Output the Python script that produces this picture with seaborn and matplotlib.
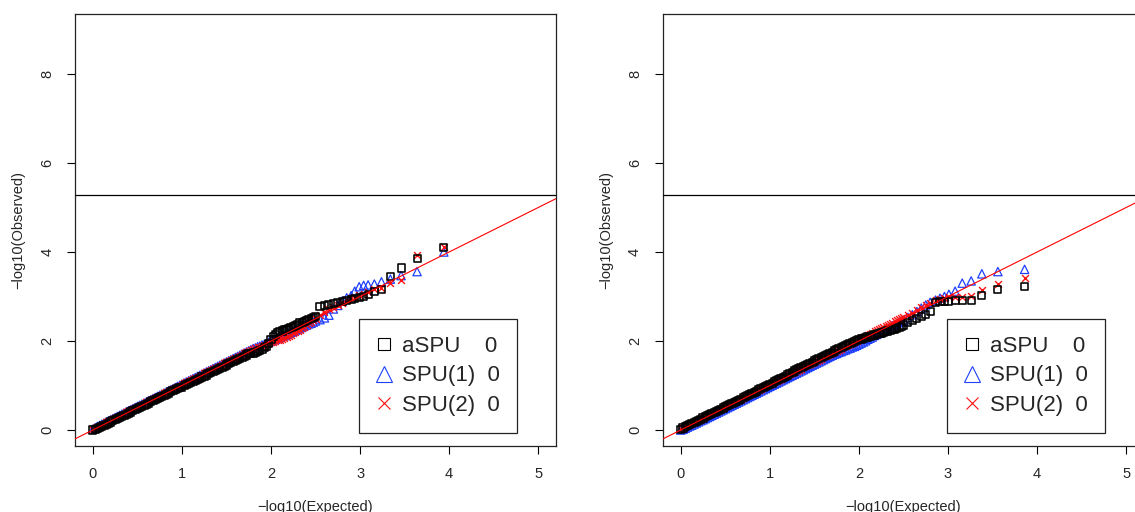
import numpy as np
import pandas as pd
import seaborn as sns
import matplotlib.pyplot as plt
from matplotlib.lines import Line2D

# expected -log10(p), dense part shared by both panels (0 .. 2.5)
exp_grid = [0.000, 0.025, 0.050, 0.075, 0.100, 0.125, 0.150, 0.175, 0.200, 0.225,
            0.250, 0.275, 0.300, 0.325, 0.350, 0.375, 0.400, 0.425, 0.450, 0.475,
            0.500, 0.525, 0.550, 0.575, 0.600, 0.625, 0.650, 0.675, 0.700, 0.725,
            0.750, 0.775, 0.800, 0.825, 0.850, 0.875, 0.900, 0.925, 0.950, 0.975,
            1.000, 1.025, 1.050, 1.075, 1.100, 1.125, 1.150, 1.175, 1.200, 1.225,
            1.250, 1.275, 1.300, 1.325, 1.350, 1.375, 1.400, 1.425, 1.450, 1.475,
            1.500, 1.525, 1.550, 1.575, 1.600, 1.625, 1.650, 1.675, 1.700, 1.725,
            1.750, 1.775, 1.800, 1.825, 1.850, 1.875, 1.900, 1.925, 1.950, 1.975,
            2.000, 2.025, 2.050, 2.075, 2.100, 2.125, 2.150, 2.175, 2.200, 2.225,
            2.250, 2.275, 2.300, 2.325, 2.350, 2.375, 2.400, 2.425, 2.450, 2.475,
            2.500]
# upper tail of expected values for each panel
exp_tail_left = [2.55, 2.60, 2.65, 2.70, 2.75, 2.80, 2.85,
                 2.90, 2.94, 2.99, 3.04, 3.09, 3.16, 3.24, 3.34, 3.46, 3.64, 3.94]
exp_tail_right = [2.55, 2.60, 2.65, 2.70, 2.75, 2.80,
                  2.86, 2.91, 2.96, 3.01, 3.08, 3.16, 3.26, 3.38, 3.56, 3.86]

# Left panel observed -log10(p)
aspu_left = [0.000, 0.010, 0.030, 0.055, 0.080, 0.105, 0.130, 0.155, 0.180, 0.205,
             0.230, 0.255, 0.280, 0.305, 0.330, 0.355, 0.380, 0.405, 0.430, 0.455,
             0.480, 0.505, 0.530, 0.555, 0.580, 0.605, 0.630, 0.655, 0.680, 0.705,
             0.730, 0.755, 0.780, 0.805, 0.830, 0.855, 0.880, 0.900, 0.925, 0.950,
             0.965, 0.990, 1.015, 1.040, 1.065, 1.090, 1.115, 1.140, 1.165, 1.190,
             1.210, 1.235, 1.260, 1.285, 1.310, 1.335, 1.360, 1.385, 1.410, 1.435,
             1.460, 1.485, 1.510, 1.535, 1.560, 1.585, 1.610, 1.635, 1.660, 1.685,
             1.710, 1.725, 1.730, 1.745, 1.760, 1.785, 1.810, 1.845, 1.880, 1.935,
             2.040, 2.105, 2.150, 2.185, 2.210, 2.225, 2.250, 2.265, 2.280, 2.305,
             2.320, 2.345, 2.380, 2.405, 2.420, 2.435, 2.460, 2.485, 2.500, 2.525,
             2.550,
             2.77, 2.80, 2.83, 2.84, 2.86, 2.88, 2.91,
             2.93, 2.96, 2.98, 3.00, 3.05, 3.12, 3.16, 3.44, 3.64, 3.85, 4.10]
spu1_left = [0.020, 0.050, 0.080, 0.105, 0.130, 0.155, 0.180, 0.205, 0.230, 0.255,
             0.280, 0.305, 0.330, 0.355, 0.380, 0.405, 0.430, 0.455, 0.480, 0.505,
             0.530, 0.555, 0.580, 0.605, 0.630, 0.655, 0.680, 0.705, 0.730, 0.755,
             0.780, 0.805, 0.830, 0.855, 0.880, 0.905, 0.930, 0.955, 0.980, 1.005,
             1.030, 1.055, 1.080, 1.105, 1.130, 1.155, 1.180, 1.205, 1.230, 1.255,
             1.280, 1.305, 1.330, 1.355, 1.380, 1.405, 1.430, 1.455, 1.480, 1.505,
             1.530, 1.555, 1.580, 1.605, 1.630, 1.655, 1.680, 1.705, 1.730, 1.755,
             1.780, 1.805, 1.830, 1.845, 1.870, 1.885, 1.910, 1.925, 1.950, 1.975,
             2.000, 2.025, 2.040, 2.065, 2.080, 2.105, 2.120, 2.145, 2.170, 2.195,
             2.220, 2.245, 2.270, 2.295, 2.320, 2.345, 2.360, 2.385, 2.400, 2.425,
             2.450,
             2.48, 2.52, 2.58, 2.72, 2.80, 2.90, 2.97,
             3.02, 3.12, 3.22, 3.25, 3.26, 3.28, 3.33, 3.39, 3.47, 3.56, 4.00]
spu2_left = [0.010, 0.045, 0.070, 0.095, 0.120, 0.145, 0.170, 0.195, 0.220, 0.245,
             0.270, 0.295, 0.320, 0.345, 0.370, 0.395, 0.420, 0.445, 0.470, 0.495,
             0.520, 0.545, 0.570, 0.595, 0.620, 0.645, 0.670, 0.695, 0.720, 0.745,
             0.770, 0.795, 0.820, 0.845, 0.870, 0.895, 0.920, 0.945, 0.970, 0.995,
             1.020, 1.045, 1.070, 1.095, 1.120, 1.145, 1.170, 1.195, 1.220, 1.245,
             1.270, 1.295, 1.320, 1.345, 1.370, 1.395, 1.420, 1.445, 1.470, 1.495,
             1.520, 1.545, 1.570, 1.595, 1.620, 1.645, 1.670, 1.695, 1.720, 1.745,
             1.770, 1.795, 1.820, 1.845, 1.860, 1.875, 1.890, 1.905, 1.930, 1.945,
             1.970, 1.985, 2.000, 2.015, 2.030, 2.055, 2.070, 2.095, 2.120, 2.145,
             2.170, 2.195, 2.230, 2.255, 2.290, 2.325, 2.360, 2.395, 2.430, 2.465,
             2.500,
             2.58, 2.66, 2.72, 2.77, 2.81, 2.86, 2.92,
             2.96, 3.00, 3.03, 3.06, 3.10, 3.16, 3.20, 3.30, 3.37, 3.93, 4.12]

# Right panel observed -log10(p)
aspu_right = [0.020, 0.045, 0.070, 0.095, 0.120, 0.145, 0.170, 0.195, 0.220, 0.245,
              0.270, 0.295, 0.320, 0.345, 0.370, 0.395, 0.420, 0.445, 0.470, 0.495,
              0.520, 0.545, 0.570, 0.595, 0.620, 0.645, 0.670, 0.695, 0.720, 0.745,
              0.770, 0.795, 0.820, 0.845, 0.870, 0.900, 0.925, 0.950, 0.975, 1.000,
              1.030, 1.055, 1.080, 1.105, 1.135, 1.160, 1.185, 1.210, 1.235, 1.260,
              1.300, 1.325, 1.350, 1.375, 1.400, 1.425, 1.450, 1.475, 1.500, 1.525,
              1.550, 1.575, 1.600, 1.625, 1.650, 1.675, 1.700, 1.725, 1.750, 1.775,
              1.800, 1.825, 1.850, 1.875, 1.900, 1.925, 1.950, 1.965, 1.990, 2.015,
              2.030, 2.045, 2.060, 2.075, 2.090, 2.105, 2.120, 2.135, 2.150, 2.165,
              2.180, 2.195, 2.210, 2.225, 2.240, 2.255, 2.270, 2.285, 2.310, 2.335,
              2.360,
              2.42, 2.47, 2.51, 2.56, 2.60, 2.66,
              2.86, 2.88, 2.88, 2.89, 2.90, 2.90, 2.92, 3.03, 3.15, 3.22]
spu1_right = [0.000, 0.015, 0.040, 0.065, 0.090, 0.110, 0.135, 0.160, 0.185, 0.210,
              0.230, 0.255, 0.280, 0.305, 0.330, 0.355, 0.380, 0.405, 0.430, 0.455,
              0.480, 0.505, 0.530, 0.555, 0.580, 0.605, 0.630, 0.655, 0.680, 0.705,
              0.730, 0.755, 0.780, 0.805, 0.830, 0.855, 0.880, 0.905, 0.930, 0.955,
              0.980, 1.005, 1.030, 1.055, 1.080, 1.105, 1.130, 1.155, 1.180, 1.205,
              1.230, 1.255, 1.280, 1.305, 1.330, 1.355, 1.380, 1.405, 1.430, 1.455,
              1.480, 1.505, 1.530, 1.555, 1.580, 1.605, 1.630, 1.655, 1.680, 1.705,
              1.720, 1.745, 1.760, 1.785, 1.800, 1.825, 1.840, 1.865, 1.880, 1.905,
              1.930, 1.955, 1.980, 2.005, 2.040, 2.065, 2.090, 2.125, 2.150, 2.175,
              2.200, 2.235, 2.260, 2.285, 2.310, 2.345, 2.370, 2.395, 2.420, 2.445,
              2.470,
              2.53, 2.59, 2.66, 2.74, 2.81, 2.87,
              2.92, 2.96, 3.00, 3.05, 3.12, 3.30, 3.35, 3.51, 3.56, 3.61]
spu2_right = [0.030, 0.055, 0.080, 0.105, 0.130, 0.155, 0.180, 0.205, 0.230, 0.255,
              0.280, 0.305, 0.330, 0.355, 0.380, 0.405, 0.430, 0.455, 0.480, 0.505,
              0.530, 0.555, 0.580, 0.605, 0.630, 0.655, 0.680, 0.705, 0.730, 0.755,
              0.780, 0.805, 0.830, 0.855, 0.880, 0.905, 0.930, 0.955, 0.980, 1.005,
              1.030, 1.055, 1.080, 1.105, 1.130, 1.155, 1.180, 1.205, 1.230, 1.255,
              1.280, 1.305, 1.330, 1.355, 1.380, 1.405, 1.430, 1.455, 1.480, 1.505,
              1.530, 1.555, 1.580, 1.605, 1.630, 1.655, 1.680, 1.705, 1.730, 1.755,
              1.780, 1.805, 1.830, 1.855, 1.880, 1.905, 1.930, 1.955, 1.980, 2.005,
              2.040, 2.065, 2.090, 2.115, 2.140, 2.165, 2.190, 2.215, 2.240, 2.265,
              2.290, 2.315, 2.340, 2.365, 2.390, 2.415, 2.440, 2.465, 2.490, 2.515,
              2.540,
              2.59, 2.64, 2.70, 2.76, 2.81, 2.86,
              2.92, 2.95, 2.97, 2.99, 3.00, 3.00, 3.01, 3.15, 3.28, 3.41]

legend_labels = ["aSPU    0", "SPU(1)  0", "SPU(2)  0"]
sig_line = 5.28  # significance threshold
x_ticks = [0, 1, 2, 3, 4, 5]
y_ticks = [0, 2, 4, 6, 8]

sns.set_style("white")
plt.rcParams['font.family'] = ['Liberation Sans', 'DejaVu Sans']

fig = plt.figure(figsize=(11.35, 5.12), dpi=100)
ax1 = fig.add_axes([0.0661, 0.1289, 0.4238, 0.8447])
ax2 = fig.add_axes([0.5841, 0.1289, 0.4238, 0.8447])  # runs past the right edge, as in the original


def qq_panel(ax, exp, aspu, spu1, spu2):
    df = pd.DataFrame({"exp": exp, "aspu": aspu, "spu1": spu1, "spu2": spu2})
    sns.scatterplot(data=df, x="exp", y="spu1", ax=ax, marker="^", s=36,
                    color="#1f3fff", facecolor="none", edgecolor="#1f3fff", linewidth=0.9)
    sns.scatterplot(data=df, x="exp", y="spu2", ax=ax, marker="x", s=24,
                    color="#ff1010", linewidth=1.0)
    sns.scatterplot(data=df, x="exp", y="aspu", ax=ax, marker="s", s=26,
                    color="black", facecolor="none", edgecolor="black", linewidth=1.15)
    ax.axline((0, 0), slope=1, color="red", lw=0.8, zorder=5)
    ax.axhline(sig_line, color="black", lw=0.9, zorder=5)

    ax.set_xlim(-0.2, 5.2)
    ax.set_ylim(-0.36, 9.36)
    ax.set_xticks(x_ticks)
    ax.set_yticks(y_ticks)
    ax.tick_params(axis="both", direction="out", length=6, width=0.8, color="black",
                   labelsize=10.5, pad=9, bottom=True, left=True)
    ax.tick_params(axis="y", labelrotation=90)
    for lab in ax.get_yticklabels():
        lab.set_va("center")
    for sp in ax.spines.values():
        sp.set_color("#222222")
        sp.set_linewidth(0.9)
    ax.set_xlabel("\u2212log10(Expected)", fontsize=10.5)
    ax.set_ylabel("\u2212log10(Observed)", fontsize=10.5)
    ax.xaxis.set_label_coords(0.5, -0.125)
    ax.yaxis.set_label_coords(-0.104, 0.5)

    handles = [
        Line2D([], [], marker="s", ls="none", mfc="none", mec="black", ms=9, mew=0.8),
        Line2D([], [], marker="^", ls="none", mfc="none", mec="#1f3fff", ms=11, mew=0.8),
        Line2D([], [], marker="x", ls="none", color="#ff1010", ms=9, mew=0.8),
    ]
    leg = ax.legend(handles, legend_labels, loc="lower right", bbox_to_anchor=(0.919, 0.030),
                    borderaxespad=0, fontsize=16, frameon=True, fancybox=False, framealpha=1,
                    borderpad=0.77, handlelength=0.7, handletextpad=0.45, labelspacing=0.38)
    leg.get_frame().set_edgecolor("#222222")
    leg.get_frame().set_linewidth(0.9)


qq_panel(ax1, exp_grid + exp_tail_left, aspu_left, spu1_left, spu2_left)
qq_panel(ax2, exp_grid + exp_tail_right, aspu_right, spu1_right, spu2_right)

fig.savefig("out.png", dpi=100)
